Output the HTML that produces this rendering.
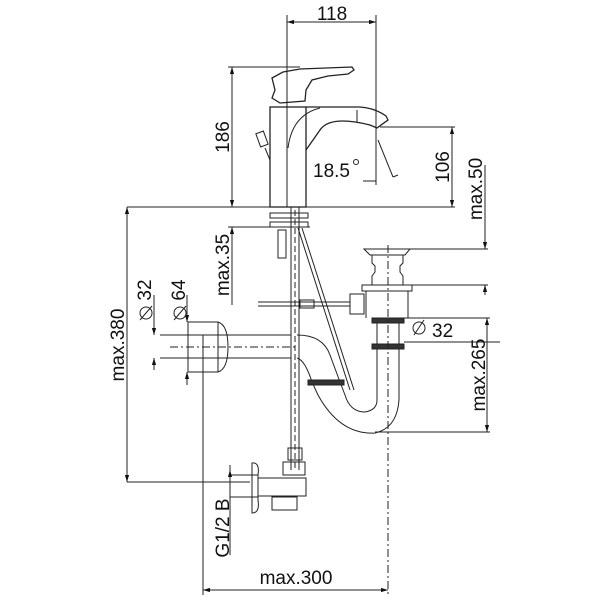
<!DOCTYPE html>
<html><head><meta charset="utf-8"><style>
html,body{margin:0;padding:0;background:#fff;width:600px;height:600px;overflow:hidden}
text{font-family:"Liberation Sans",Arial,sans-serif;font-size:19px;fill:#111}
</style></head><body>
<svg width="600" height="600" viewBox="0 0 600 600" xmlns="http://www.w3.org/2000/svg">
<defs>
<marker id="a" viewBox="0 0 10 10" refX="10" refY="5" markerWidth="7" markerHeight="7" orient="auto-start-reverse"><path d="M0,2 L10,5 L0,8z" fill="#111"/></marker>
</defs>
<g stroke="#222" stroke-width="1" fill="none">
<line x1="287" y1="15" x2="287" y2="207"/>
<line x1="376" y1="15" x2="376" y2="185"/>
<line x1="287" y1="22" x2="376" y2="22" marker-start="url(#a)" marker-end="url(#a)"/>
<line x1="228" y1="67" x2="300" y2="67"/>
<line x1="232" y1="67" x2="232" y2="207" marker-start="url(#a)" marker-end="url(#a)"/>
<line x1="127" y1="207" x2="455" y2="207"/>
<line x1="380" y1="127" x2="455" y2="127"/>
<line x1="452" y1="127" x2="452" y2="207" marker-start="url(#a)" marker-end="url(#a)"/>
<line x1="363" y1="181" x2="376" y2="181"/>
<line x1="378" y1="140" x2="393" y2="177"/>
<line x1="393" y1="177" x2="398" y2="175"/>
<rect x="270" y="107" width="36" height="100" stroke-width="1.3"/>
<path d="M272,98 L275,90 L272,78 L283,72 L300,69 L352,67 L354,70 L348,74 L328,76 L312,80 L306,90 L305,101 L280,103 Z" stroke-width="1.3"/>
<path d="M306,107 L360,107 Q375,108 386,116 L388,120 L377,128 L370,125 Q330,115 320,130 L306,150" stroke-width="1.3"/>
<path d="M288,148 Q292,115 320,108"/>
<line x1="357" y1="110" x2="357" y2="122"/>
<rect x="258" y="132" width="8" height="14" transform="rotate(-20 262 139)"/>
<line x1="265" y1="148" x2="270" y2="160"/>
<line x1="291" y1="207" x2="291" y2="470"/>
<line x1="299" y1="207" x2="299" y2="470"/>
<line x1="295" y1="210" x2="295" y2="470" stroke-dasharray="6,3"/>
<rect x="270" y="213" width="38" height="5"/><rect x="270" y="222" width="38" height="5"/>
<rect x="278" y="230" width="8" height="28"/>
<line x1="298" y1="228" x2="350" y2="390"/><line x1="302" y1="228" x2="354" y2="390"/>
<line x1="258" y1="302" x2="350" y2="302"/><line x1="258" y1="306" x2="350" y2="306"/>
<rect x="350" y="294" width="14" height="20"/><rect x="300" y="300" width="14" height="8"/>
<line x1="228" y1="227" x2="310" y2="227"/>
<line x1="232" y1="227" x2="232" y2="305" marker-start="url(#a)"/>
<path d="M364,249 L410,249 L405,255 L370,255 Z"/>
<path d="M372,255 L372,263 L375,266 L375,272 L372,276 L372,285 M403,255 L403,263 L400,266 L400,272 L403,276 L403,285"/>
<rect x="362" y="285" width="50" height="6"/>
<path d="M366,291 L366,318 M408,291 L408,318"/>
<rect x="372" y="318" width="32" height="5" fill="#333"/>
<rect x="372" y="344" width="32" height="5" fill="#333"/>
<path d="M377,323 L377,344 M399,323 L399,344"/>
<line x1="388" y1="245" x2="388" y2="595" stroke-dasharray="8,3,2,3"/>
<line x1="410" y1="249" x2="488" y2="249"/><line x1="412" y1="285" x2="488" y2="285"/>
<line x1="485" y1="165" x2="485" y2="249" marker-end="url(#a)"/>
<line x1="485" y1="285" x2="485" y2="295" marker-start="url(#a)"/>
<line x1="404" y1="318" x2="490" y2="318"/>
<line x1="404" y1="342" x2="500" y2="342"/>
<line x1="414" y1="335" x2="424" y2="320"/><circle cx="419" cy="328" r="6"/>
<path d="M377,349 L377,400 Q377,410 365,412 Q350,412 345,395 L340,382 M399,349 L399,400 Q397,428 375,433 Q340,435 318,395 L312,382"/>
<path d="M297,335 Q323,335 330,355 L340,382 M297,358 Q305,360 312,382"/>
<rect x="308" y="380" width="36" height="5" fill="#333"/>
<line x1="160" y1="335" x2="291" y2="335"/><line x1="160" y1="358" x2="291" y2="358"/>
<line x1="170" y1="347" x2="295" y2="347" stroke-dasharray="8,3,2,3"/>
<path d="M188,322 L218,322 Q228,325 228,347 Q228,369 218,372 L188,372 Z"/>
<line x1="218" y1="322" x2="218" y2="372"/>
<line x1="203" y1="335" x2="203" y2="595"/>
<line x1="154" y1="295" x2="154" y2="335" marker-end="url(#a)"/>
<line x1="154" y1="358" x2="154" y2="370" marker-start="url(#a)"/>
<line x1="187" y1="295" x2="187" y2="322" marker-end="url(#a)"/>
<line x1="187" y1="372" x2="187" y2="385" marker-start="url(#a)"/>
<circle cx="146" cy="313" r="6"/><line x1="140" y1="320" x2="152" y2="306"/>
<circle cx="180" cy="313" r="6"/><line x1="174" y1="320" x2="186" y2="306"/>
<line x1="487" y1="318" x2="487" y2="432" marker-start="url(#a)" marker-end="url(#a)"/>
<line x1="375" y1="432" x2="490" y2="432"/>
<line x1="127" y1="207" x2="127" y2="482" marker-start="url(#a)" marker-end="url(#a)"/>
<line x1="127" y1="482" x2="250" y2="482"/>
<rect x="288" y="448" width="14" height="12"/>
<path d="M283,462 L305,462 L305,475 L283,475 Z"/>
<path d="M252,463 Q260,462 258,475 L258,500 Q260,513 252,513 Z"/>
<rect x="230" y="475" width="28" height="22"/>
<rect x="258" y="478" width="48" height="18"/>
<rect x="272" y="497" width="25" height="13"/>
<line x1="230" y1="465" x2="230" y2="555"/>
<line x1="230" y1="470" x2="230" y2="477" marker-start="url(#a)"/>
<line x1="203" y1="590" x2="388" y2="590" marker-start="url(#a)" marker-end="url(#a)"/>
</g>
<text x="332" y="20" text-anchor="middle">118</text>
<text x="313" y="177">18.5</text><circle cx="356" cy="162" r="2.5" fill="none" stroke="#222"/>
<text transform="translate(229,137) rotate(-90)" text-anchor="middle">186</text>
<text transform="translate(449,167) rotate(-90)" text-anchor="middle">106</text>
<text transform="translate(482,189) rotate(-90)" text-anchor="middle">max.50</text>
<text transform="translate(229,265) rotate(-90)" text-anchor="middle">max.35</text>
<text transform="translate(151,290) rotate(-90)" text-anchor="middle">32</text>
<text transform="translate(185,290) rotate(-90)" text-anchor="middle">64</text>
<text transform="translate(124,345) rotate(-90)" text-anchor="middle">max.380</text>
<text x="432" y="337">32</text>
<text transform="translate(485,375) rotate(-90)" text-anchor="middle">max.265</text>
<text transform="translate(229,528) rotate(-90)" text-anchor="middle">G1/2 B</text>
<text x="296" y="584" text-anchor="middle">max.300</text>
</svg>
</body></html>
